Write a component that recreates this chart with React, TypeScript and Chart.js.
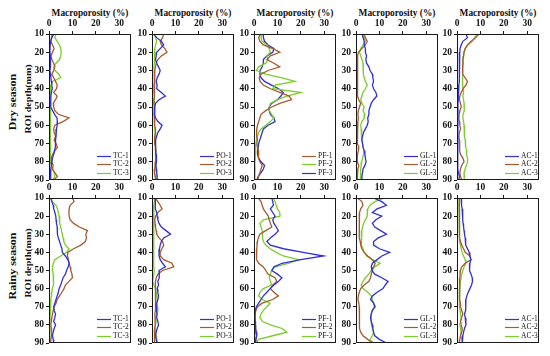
import React, { useEffect, useRef } from "react";
import { Chart, registerables } from "chart.js";
Chart.register(...registerables);

// ROI depth (mm)
const depths = [10, 12, 14, 16, 18, 20, 22, 24, 26, 28, 30, 32, 34, 36, 38, 40, 42, 44, 46, 48, 50, 52, 54, 56, 58, 60, 62, 64, 66, 68, 70, 72, 74, 76, 78, 80, 82, 84, 86, 88, 90];
const xTickValues = [0, 10, 20, 30];
const yTickValues = [10, 20, 30, 40, 50, 60, 70, 80, 90];

// Dry season – macroporosity (%)
const dryTC1 = [2.1, 1.2, 0.7, 0.5, 0.4, 0.4, 0.6, 0.8, 0.6, 0.5, 0.4, 0.6, 0.8, 1.0, 1.2, 1.4, 1.0, 0.8, 0.7, 0.7, 0.8, 1.5, 2.4, 3.4, 3.6, 3.5, 3.2, 3.0, 3.0, 2.8, 2.9, 2.6, 2.3, 2.0, 1.5, 1.2, 1.0, 0.8, 0.7, 0.8, 0.6];
const dryTC2 = [1.5, 1.0, 0.8, 1.5, 2.2, 1.5, 0.8, 1.2, 2.0, 2.5, 2.0, 1.2, 2.0, 2.8, 3.5, 3.2, 2.0, 3.5, 2.8, 1.8, 2.0, 2.5, 4.0, 8.5, 6.0, 2.5, 2.0, 2.2, 2.8, 2.2, 3.0, 3.6, 2.5, 1.5, 1.0, 1.2, 1.8, 1.5, 2.5, 3.6, 2.0];
const dryTC3 = [3.0, 2.5, 3.5, 4.5, 5.0, 5.2, 5.0, 4.5, 3.0, 2.0, 2.5, 4.2, 5.0, 1.5, 0.8, 0.6, 0.5, 0.5, 0.4, 0.5, 0.6, 0.5, 0.6, 0.8, 0.6, 0.5, 0.5, 0.6, 0.5, 0.5, 0.6, 0.5, 0.6, 0.7, 0.8, 0.8, 1.0, 1.5, 2.2, 2.5, 1.5];

const dryPO1 = [0.7, 2.0, 4.0, 5.0, 3.5, 2.0, 1.8, 1.5, 2.0, 2.8, 3.5, 3.0, 2.2, 1.8, 2.2, 2.0, 4.0, 5.7, 3.0, 1.5, 1.2, 1.0, 1.2, 1.5, 2.5, 4.3, 3.5, 2.5, 2.0, 1.5, 1.4, 1.5, 1.6, 1.8, 2.0, 1.8, 1.6, 1.8, 2.0, 2.2, 2.2];
const dryPO2 = [5.0, 4.5, 3.5, 4.0, 5.5, 6.4, 4.0, 2.5, 1.8, 1.5, 1.2, 1.0, 1.0, 1.2, 1.0, 1.0, 1.2, 1.0, 0.8, 0.8, 1.0, 1.0, 1.2, 1.0, 1.0, 1.2, 1.5, 1.5, 1.2, 1.0, 1.2, 1.5, 1.4, 1.6, 1.8, 1.5, 1.3, 1.2, 1.0, 1.3, 1.5];
const dryPO3 = [1.0, 1.5, 2.0, 1.5, 1.2, 1.0, 1.0, 1.2, 1.0, 0.8, 1.0, 1.0, 1.1, 1.0, 0.8, 0.7, 0.8, 1.0, 0.9, 1.0, 1.2, 1.0, 0.8, 1.0, 1.2, 1.0, 1.2, 1.3, 1.5, 1.5, 1.5, 1.7, 1.8, 1.5, 1.4, 1.6, 1.8, 2.0, 1.8, 1.6, 1.8];

const dryPF1 = [2.6, 2.0, 2.5, 4.0, 8.0, 11.0, 7.0, 5.5, 8.5, 11.0, 6.0, 3.0, 2.2, 2.6, 4.0, 7.0, 11.0, 15.0, 16.0, 11.0, 7.5, 5.0, 3.0, 2.5, 2.0, 1.5, 1.2, 1.0, 1.2, 1.5, 1.2, 1.5, 2.0, 2.0, 1.8, 2.5, 3.5, 3.0, 2.5, 2.0, 1.5];
const dryPF2 = [3.3, 3.0, 3.5, 5.5, 6.5, 7.0, 5.5, 6.0, 5.0, 2.0, 1.0, 5.0, 12.0, 17.5, 9.0, 8.0, 20.0, 14.0, 10.0, 7.0, 6.5, 6.5, 7.5, 8.5, 7.0, 5.0, 3.0, 2.0, 1.5, 1.0, 0.8, 0.8, 0.6, 0.5, 0.5, 0.4, 0.4, 0.5, 0.4, 0.4, 0.4];
const dryPF3 = [4.0, 4.0, 4.5, 6.0, 8.5, 8.0, 5.5, 4.0, 4.0, 3.5, 2.6, 2.5, 3.0, 4.5, 7.5, 10.5, 12.5, 11.5, 10.0, 7.5, 6.5, 6.5, 7.0, 8.5, 9.0, 6.0, 4.0, 3.5, 3.0, 2.5, 2.0, 1.8, 1.5, 1.5, 2.0, 3.0, 4.5, 4.0, 3.0, 1.8, 1.2];

const dryGL1 = [2.7, 3.0, 3.5, 3.5, 4.0, 4.0, 4.5, 4.2, 4.5, 5.5, 6.0, 7.0, 7.2, 7.5, 7.0, 7.5, 8.5, 8.9, 7.5, 6.5, 6.0, 5.5, 5.5, 5.0, 5.2, 4.8, 4.0, 3.2, 2.8, 2.5, 2.8, 3.0, 3.5, 3.8, 4.0, 4.3, 3.8, 3.0, 2.8, 2.5, 2.6];
const dryGL2 = [3.4, 4.0, 4.8, 4.0, 2.5, 1.0, 0.7, 0.7, 0.8, 0.6, 0.8, 0.6, 0.5, 0.8, 0.6, 0.5, 0.6, 0.8, 1.2, 2.0, 1.5, 1.0, 0.8, 1.0, 0.8, 0.6, 0.5, 0.6, 0.8, 0.5, 0.6, 1.2, 1.0, 0.6, 0.5, 0.6, 1.2, 0.8, 0.6, 0.5, 0.5];
const dryGL3 = [2.5, 3.5, 4.0, 3.0, 2.0, 1.5, 2.0, 2.5, 3.0, 3.2, 3.0, 3.2, 3.5, 4.0, 4.8, 4.0, 3.0, 2.5, 2.0, 2.5, 3.5, 3.0, 3.8, 3.5, 2.5, 2.0, 2.2, 2.5, 2.2, 2.5, 2.8, 3.0, 3.5, 3.2, 2.8, 2.5, 2.2, 2.0, 1.8, 2.0, 2.0];

const dryAC1 = [3.8, 4.5, 2.5, 1.8, 1.3, 1.2, 1.0, 1.0, 1.1, 1.0, 1.0, 1.0, 0.9, 1.0, 0.8, 0.7, 0.6, 0.5, 0.5, 0.4, 0.4, 0.4, 0.4, 0.3, 0.3, 0.3, 0.3, 0.3, 0.3, 0.3, 0.3, 0.3, 0.3, 0.3, 0.3, 0.3, 0.3, 0.4, 0.6, 1.0, 0.8];
const dryAC2 = [9.3, 8.0, 6.0, 4.5, 3.5, 3.0, 2.8, 2.5, 2.6, 2.4, 2.3, 2.5, 3.5, 4.5, 3.8, 2.5, 1.8, 1.2, 1.0, 1.5, 1.8, 1.2, 1.0, 0.8, 1.0, 1.2, 1.5, 1.0, 0.8, 1.0, 1.2, 1.0, 1.2, 1.5, 2.5, 3.0, 2.0, 1.5, 1.2, 1.5, 2.0];
const dryAC3 = [8.5, 7.5, 6.5, 4.5, 3.5, 3.0, 2.8, 2.6, 2.5, 2.3, 2.4, 2.5, 2.3, 2.2, 2.5, 2.6, 2.8, 2.5, 2.8, 3.0, 3.2, 3.0, 2.6, 2.5, 2.8, 3.0, 3.3, 3.0, 3.2, 3.5, 3.5, 3.8, 4.2, 4.0, 4.5, 4.5, 4.0, 3.5, 3.0, 3.2, 3.0];

// Rainy season – macroporosity (%)
const rainTC1 = [0.7, 1.2, 1.8, 2.0, 2.5, 2.9, 3.0, 3.2, 3.5, 3.6, 3.6, 4.0, 4.5, 5.0, 5.5, 5.7, 7.0, 8.0, 8.6, 8.2, 7.5, 7.0, 6.0, 5.5, 5.0, 4.3, 4.0, 3.5, 3.0, 2.5, 2.0, 2.2, 2.8, 2.5, 2.0, 2.8, 2.2, 1.8, 1.5, 1.8, 2.0];
const rainTC2 = [10.0, 10.7, 9.0, 8.6, 8.5, 8.6, 9.0, 10.5, 13.0, 16.4, 15.7, 16.0, 15.5, 13.6, 10.5, 8.0, 7.9, 8.3, 8.6, 9.0, 9.3, 9.8, 10.0, 8.5, 7.0, 6.4, 5.5, 4.5, 3.5, 3.0, 2.2, 1.8, 1.5, 1.2, 1.0, 0.8, 1.0, 1.2, 1.0, 0.8, 0.7];
const rainTC3 = [0.7, 1.5, 3.0, 3.6, 4.0, 4.3, 4.5, 4.6, 5.0, 5.3, 5.7, 6.0, 6.3, 7.0, 8.6, 7.5, 5.0, 2.5, 1.8, 1.5, 1.5, 1.8, 2.0, 2.0, 1.8, 1.4, 1.2, 1.0, 0.8, 0.7, 0.6, 0.5, 0.5, 0.4, 0.4, 0.4, 0.4, 0.4, 0.3, 0.3, 0.3];

const rainPO1 = [1.4, 1.5, 1.3, 1.5, 2.0, 2.2, 2.5, 3.0, 4.0, 6.0, 7.9, 5.0, 4.0, 3.5, 3.2, 3.0, 3.0, 3.5, 4.5, 5.7, 3.0, 3.0, 3.2, 2.5, 2.8, 2.2, 2.5, 2.8, 2.5, 2.0, 1.8, 2.0, 2.2, 2.0, 2.5, 2.8, 2.2, 1.8, 1.5, 1.8, 2.0];
const rainPO2 = [1.4, 2.5, 3.5, 4.3, 2.5, 1.5, 1.2, 1.3, 1.5, 1.8, 2.0, 3.0, 4.5, 5.0, 4.2, 3.5, 3.5, 5.0, 8.5, 9.3, 4.5, 2.5, 1.8, 1.5, 1.4, 1.5, 1.6, 1.5, 1.4, 1.5, 1.5, 1.4, 1.2, 1.3, 1.4, 1.3, 1.2, 1.0, 1.2, 1.0, 1.0];
const rainPO3 = [1.2, 1.0, 0.8, 0.8, 0.7, 0.7, 0.6, 0.7, 0.6, 0.7, 0.7, 0.7, 0.8, 0.7, 0.7, 0.8, 0.7, 0.6, 0.7, 0.8, 1.0, 0.8, 0.5, 0.3, 0.8, 1.5, 1.8, 2.0, 2.2, 2.0, 2.2, 2.5, 2.0, 1.5, 1.8, 1.5, 1.2, 1.5, 1.8, 2.0, 2.2];

const rainPF1 = [7.6, 8.0, 8.3, 7.0, 8.0, 9.0, 8.0, 8.5, 9.5, 10.4, 9.0, 7.0, 5.5, 7.0, 12.6, 21.0, 29.7, 20.0, 12.0, 8.5, 7.6, 10.0, 11.9, 10.5, 8.5, 6.9, 5.5, 4.0, 3.0, 2.0, 1.0, 0.5, 0.4, 0.4, 0.5, 0.5, 0.8, 1.0, 1.2, 0.8, 0.5];
const rainPF2 = [1.9, 3.0, 3.5, 4.0, 5.0, 6.1, 6.5, 7.0, 7.6, 5.0, 2.5, 1.8, 1.5, 1.3, 1.2, 1.0, 1.0, 1.2, 2.0, 4.0, 5.0, 6.0, 9.0, 9.7, 8.0, 7.0, 8.5, 10.4, 8.0, 3.5, 1.5, 0.8, 0.5, 0.4, 0.4, 0.5, 0.6, 0.8, 1.0, 0.8, 0.8];
const rainPF3 = [8.3, 9.0, 9.5, 10.0, 11.0, 11.1, 4.0, 2.5, 3.0, 3.5, 3.5, 3.8, 4.0, 5.0, 6.9, 9.5, 12.5, 19.0, 15.0, 9.0, 7.5, 7.0, 6.5, 7.0, 7.5, 4.0, 2.5, 2.0, 3.5, 6.9, 5.5, 4.0, 3.0, 2.5, 3.5, 7.0, 12.0, 14.0, 8.0, 2.0, 1.0];

const rainGL1 = [7.5, 11.0, 13.0, 9.0, 7.0, 11.0, 8.5, 7.0, 8.0, 10.5, 13.0, 9.5, 7.5, 7.5, 10.0, 14.4, 11.0, 9.0, 7.0, 6.5, 6.8, 8.0, 11.0, 13.7, 12.5, 11.5, 9.0, 7.0, 6.2, 7.5, 8.2, 7.0, 6.5, 6.2, 6.5, 7.0, 7.2, 7.5, 8.0, 10.0, 13.0];
const rainGL2 = [0.7, 2.5, 3.0, 2.0, 1.5, 1.3, 1.3, 1.4, 1.5, 1.4, 1.3, 1.5, 1.8, 2.0, 2.5, 3.5, 5.0, 7.0, 8.2, 7.5, 7.0, 6.5, 6.2, 5.5, 3.5, 2.0, 1.4, 1.0, 0.8, 1.2, 1.4, 1.5, 1.4, 1.5, 1.4, 1.5, 1.6, 2.0, 3.0, 5.0, 7.0];
const rainGL3 = [12.3, 8.0, 6.0, 5.0, 4.8, 4.8, 4.0, 3.2, 2.8, 2.5, 2.2, 2.2, 2.3, 2.5, 3.0, 3.5, 4.5, 7.0, 10.3, 8.0, 6.5, 5.5, 4.0, 3.0, 2.2, 3.0, 5.0, 6.5, 7.0, 7.5, 7.8, 7.0, 6.5, 6.5, 6.5, 6.6, 7.0, 7.5, 7.0, 6.0, 7.5];

const rainAC1 = [1.8, 1.9, 2.0, 2.2, 2.3, 2.5, 2.5, 2.6, 2.8, 3.0, 3.2, 3.5, 3.6, 3.8, 4.5, 5.2, 5.5, 5.9, 5.5, 5.2, 5.5, 6.0, 6.5, 6.6, 6.2, 5.5, 4.8, 4.2, 3.8, 3.8, 3.8, 3.5, 3.2, 3.5, 3.8, 3.8, 3.2, 2.8, 2.5, 2.3, 2.3];
const rainAC2 = [1.0, 1.0, 1.1, 1.0, 1.0, 1.1, 1.0, 1.0, 1.1, 1.0, 1.1, 1.2, 1.5, 2.0, 2.8, 3.5, 5.5, 6.0, 3.5, 2.0, 1.5, 1.3, 1.2, 1.0, 1.0, 1.1, 1.2, 1.0, 1.2, 1.5, 1.5, 2.0, 2.5, 2.0, 1.5, 1.8, 2.2, 2.0, 1.5, 1.2, 1.0];
const rainAC3 = [1.0, 0.9, 0.8, 0.9, 1.0, 1.0, 1.0, 1.1, 1.0, 1.0, 1.2, 1.1, 1.2, 1.5, 1.8, 2.2, 2.8, 3.5, 3.8, 3.0, 2.5, 2.0, 1.8, 1.5, 1.3, 1.2, 1.0, 1.0, 1.0, 1.0, 1.1, 1.3, 1.5, 1.8, 1.5, 1.2, 1.5, 1.8, 1.5, 2.0, 2.5];

const BLUE = "#3030d8";
const BROWN = "#a65a2e";
const GREEN = "#7acd2c";
const SERIF = "'Liberation Serif', 'Times New Roman', serif";

type Series = { label: string; color: string; values: number[] };
type PanelDef = { left: number; top: number; height: number; series: Series[] };

const colLefts = [48.5, 152, 254, 355.5, 457];
const rowTops = [34, 198];
const rowHeights = [146, 145];
const PLOT_W = 82;
const Y_AXIS_W = 24;
const X_AXIS_H = 20;
const PAD = 8;

const s = (label: string, color: string, values: number[]): Series => ({ label, color, values });

const panelSeries: Series[][] = [
  [s("TC-1", BLUE, dryTC1), s("TC-2", BROWN, dryTC2), s("TC-3", GREEN, dryTC3)],
  [s("PO-1", BLUE, dryPO1), s("PO-2", BROWN, dryPO2), s("PO-3", GREEN, dryPO3)],
  [s("PF-1", BROWN, dryPF1), s("PF-2", GREEN, dryPF2), s("PF-3", BLUE, dryPF3)],
  [s("GL-1", BLUE, dryGL1), s("GL-2", BROWN, dryGL2), s("GL-3", GREEN, dryGL3)],
  [s("AC-1", BLUE, dryAC1), s("AC-2", BROWN, dryAC2), s("AC-3", GREEN, dryAC3)],
  [s("TC-1", BLUE, rainTC1), s("TC-2", BROWN, rainTC2), s("TC-3", GREEN, rainTC3)],
  [s("PO-1", BLUE, rainPO1), s("PO-2", BROWN, rainPO2), s("PO-3", GREEN, rainPO3)],
  [s("PF-1", BLUE, rainPF1), s("PF-2", BROWN, rainPF2), s("PF-3", GREEN, rainPF3)],
  [s("GL-1", BLUE, rainGL1), s("GL-2", BROWN, rainGL2), s("GL-3", GREEN, rainGL3)],
  [s("AC-1", BLUE, rainAC1), s("AC-2", BROWN, rainAC2), s("AC-3", GREEN, rainAC3)],
];

const panels: PanelDef[] = panelSeries.map((series, i) => {
  const row = Math.floor(i / 5);
  const col = i % 5;
  return { left: colLefts[col], top: rowTops[row], height: rowHeights[row], series };
});

function Panel({ def }: { def: PanelDef }) {
  const ref = useRef<HTMLCanvasElement>(null);
  const cw = Y_AXIS_W + PLOT_W + PAD;
  const ch = X_AXIS_H + def.height + PAD;
  useEffect(() => {
    const framePlugin = {
      id: "frame",
      afterDraw(chart: any) {
        const { ctx, chartArea: a } = chart;
        ctx.save();
        ctx.strokeStyle = "#1a1a1a";
        ctx.lineWidth = 1;
        ctx.strokeRect(Math.round(a.left) + 0.5, Math.round(a.top) + 0.5, Math.round(a.right - a.left) - 1, Math.round(a.bottom - a.top) - 1);
        ctx.restore();
      },
    };
    const legendPlugin = {
      id: "innerLegend",
      afterDatasetsDraw(chart: any) {
        const { ctx, chartArea: a } = chart;
        ctx.save();
        ctx.font = `7.5px ${SERIF}`;
        ctx.textBaseline = "middle";
        ctx.textAlign = "left";
        def.series.forEach((sr, i) => {
          const y = Math.round(a.bottom - 24.5 + i * 8.5) + 0.5;
          ctx.strokeStyle = sr.color;
          ctx.lineWidth = 1.2;
          ctx.beginPath();
          ctx.moveTo(a.right - 34, y);
          ctx.lineTo(a.right - 20, y);
          ctx.stroke();
          ctx.fillStyle = "#111";
          ctx.fillText(sr.label, a.right - 18, y);
        });
        ctx.restore();
      },
    };
    const tickFont = { family: SERIF, size: 9.5, weight: "bold" as const };
    const chart = new Chart(ref.current!, {
      type: "line",
      data: {
        datasets: def.series.map((sr) => ({
          label: sr.label,
          data: depths.map((d, i) => ({ x: sr.values[i], y: d })),
          borderColor: sr.color,
          backgroundColor: sr.color,
          borderWidth: 1.3,
          pointRadius: 0,
          fill: false,
          tension: 0,
        })),
      },
      options: {
        animation: false,
        responsive: false,
        indexAxis: "y",
        layout: { padding: { left: 0, top: 0, right: PAD, bottom: PAD } },
        plugins: { legend: { display: false }, tooltip: { enabled: false } },
        scales: {
          x: {
            type: "linear",
            position: "top",
            min: 0,
            max: 35,
            afterBuildTicks: (sc: any) => {
              sc.ticks = xTickValues.map((v) => ({ value: v }));
            },
            afterFit: (sc: any) => {
              sc.height = X_AXIS_H;
            },
            ticks: { font: tickFont, color: "#111", padding: 2, maxRotation: 0 },
            grid: { drawOnChartArea: false, drawTicks: true, tickLength: 3, color: "#1a1a1a" },
            border: { display: false },
          },
          y: {
            type: "linear",
            reverse: true,
            min: 10,
            max: 90,
            afterBuildTicks: (sc: any) => {
              sc.ticks = yTickValues.map((v) => ({ value: v }));
            },
            afterFit: (sc: any) => {
              sc.width = Y_AXIS_W;
            },
            ticks: { font: tickFont, color: "#111", padding: 2 },
            grid: { drawOnChartArea: false, drawTicks: true, tickLength: 3, color: "#1a1a1a" },
            border: { display: false },
          },
        },
      } as any,
      plugins: [framePlugin, legendPlugin],
    });
    return () => chart.destroy();
  }, []);
  return (
    <canvas
      ref={ref}
      width={cw}
      height={ch}
      style={{ position: "absolute", left: def.left - Y_AXIS_W, top: def.top - X_AXIS_H, width: cw, height: ch }}
    />
  );
}

const titleText = "Macroporosity (%)";
const rowLabels = [
  { season: "Dry season", cy: 102 },
  { season: "Rainy season", cy: 266 },
];

export default function App() {
  return (
    <div style={{ position: "fixed", left: 0, top: 0, width: 550, height: 356, background: "#fff", overflow: "hidden", fontFamily: SERIF }}>
      {colLefts.map((l, i) => (
        <div
          key={"t" + i}
          style={{
            position: "absolute",
            left: l + PLOT_W / 2,
            top: 12,
            transform: "translate(-50%, -50%) scaleX(0.85)",
            fontSize: 11,
            fontWeight: "bold",
            whiteSpace: "nowrap",
            color: "#111",
          }}
        >
          {titleText}
        </div>
      ))}
      {rowLabels.map((r, i) => (
        <React.Fragment key={"r" + i}>
          <div
            style={{
              position: "absolute",
              left: 13,
              top: r.cy,
              transform: "translate(-50%, -50%) rotate(-90deg) scaleY(0.85)",
              fontSize: 12,
              fontWeight: "bold",
              whiteSpace: "nowrap",
              color: "#111",
            }}
          >
            {r.season}
          </div>
          <div
            style={{
              position: "absolute",
              left: 27.5,
              top: r.cy - 3,
              transform: "translate(-50%, -50%) rotate(-90deg) scaleY(0.8)",
              fontSize: 10,
              fontWeight: "bold",
              whiteSpace: "nowrap",
              color: "#111",
            }}
          >
            ROI depth(mm)
          </div>
        </React.Fragment>
      ))}
      {panels.map((p, i) => (
        <Panel key={i} def={p} />
      ))}
    </div>
  );
}
